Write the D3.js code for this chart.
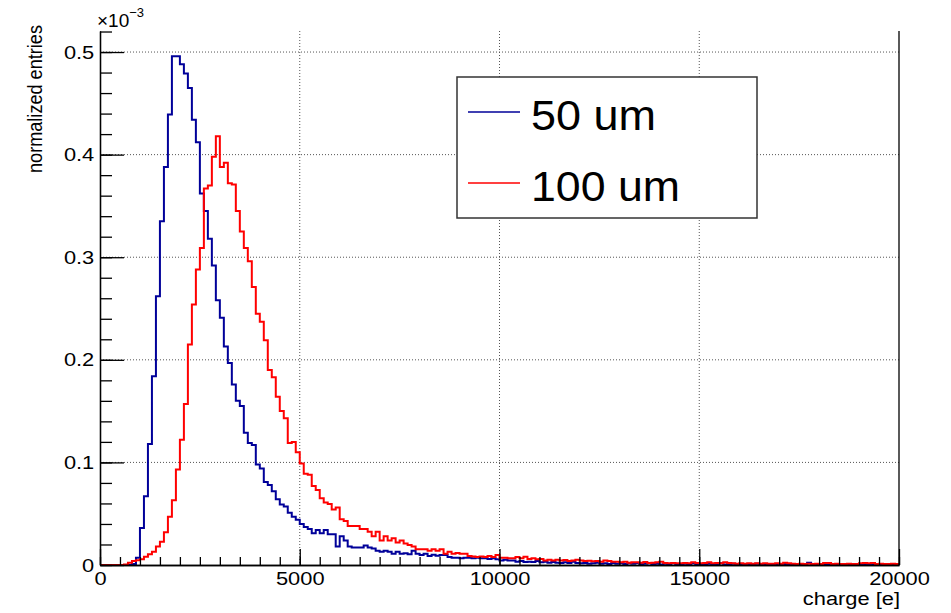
<!DOCTYPE html>
<html>
<head>
<meta charset="utf-8">
<script src="https://cdn.jsdelivr.net/npm/d3@7"></script>
<style>
body { margin: 0; background: #fff; }
#graph { width: 951px; height: 613px; }
svg text { font-family: "Liberation Sans", Arial, Helvetica, sans-serif; fill: #000; }
</style>
</head>
<body>
<div id="graph"></div>
<script>
// histogram binning (charge in e)
const xMin = 0, xMax = 20000, binWidth = 100;
const yTop = 0.5205; // in units of 1e-3

// tick values
const xMajorTicks = [0, 5000, 10000, 15000, 20000];
const yMajorTicks = [0, 0.1, 0.2, 0.3, 0.4, 0.5];

// normalized entries per bin, x 1e-3
const values50um = [
  0, 0, 0, 0, 0, 0, 0, 0, 0.001, 0.007,
  0.036, 0.067, 0.118, 0.184, 0.262, 0.335, 0.388, 0.439, 0.496, 0.496,
  0.488, 0.479, 0.465, 0.434, 0.412, 0.362, 0.345, 0.318, 0.292, 0.258,
  0.241, 0.213, 0.197, 0.176, 0.160, 0.155, 0.129, 0.119, 0.117, 0.098,
  0.094, 0.081, 0.078, 0.072, 0.064, 0.059, 0.057, 0.051, 0.047, 0.044,
  0.040, 0.037, 0.035, 0.031, 0.034, 0.031, 0.034, 0.030, 0.030, 0.018,
  0.028, 0.024, 0.018, 0.017, 0.017, 0.017, 0.019, 0.017, 0.016, 0.014,
  0.013, 0.014, 0.013, 0.011, 0.013, 0.011, 0.0115, 0.0105, 0.014, 0.011,
  0.0097, 0.011, 0.0088, 0.010, 0.009, 0.0097, 0.0097, 0.0078, 0.0071, 0.0071,
  0.0065, 0.0071, 0.0071, 0.0065, 0.0071, 0.0065, 0.0065, 0.0058, 0.0065, 0.0055,
  0.0045, 0.0052, 0.0045, 0.0045, 0.0032, 0.0039, 0.0029, 0.0032, 0.0029, 0.0039,
  0.0026, 0.0032, 0.0023, 0.0029, 0.0023, 0.0019, 0.0026, 0.0019, 0.0032, 0.0019,
  0.0016, 0.0019, 0.0013, 0.0016, 0.0023, 0.0013, 0.0016, 0.0010, 0.0019, 0.0013,
  0.0016, 0.0010, 0.0016, 0.0013, 0.0019, 0.0010, 0.0013, 0.0016, 0.0010, 0.0013,
  0.0006, 0.0013, 0.0010, 0.0016, 0.0006, 0.0010, 0.0013, 0.0006, 0.0016, 0.0010,
  0.0006, 0.0010, 0.0013, 0.0006, 0.0010, 0.0016, 0.0006, 0.0010, 0.0013, 0.0006,
  0.0010, 0.0006, 0.0010, 0.0006, 0.0013, 0.0006, 0.0010, 0.0006, 0.0006, 0.0010,
  0.0006, 0.0010, 0.0006, 0.0006, 0.0010, 0.0006, 0.0010, 0.0023, 0.0006, 0.0010,
  0.0006, 0.0006, 0.0010, 0.0006, 0.0006, 0.0010, 0.0006, 0.0010, 0.0006, 0.0006,
  0.0003, 0.0006, 0.0010, 0.0006, 0.0003, 0.0006, 0.0006, 0.0003, 0.0006, 0.0003
];

const values100um = [
  0, 0, 0, 0, 0, 0, 0.0005, 0.0023, 0.0039, 0.0047,
  0.0055, 0.0081, 0.0104, 0.013, 0.018, 0.0227, 0.032, 0.047, 0.063, 0.093,
  0.122, 0.157, 0.215, 0.254, 0.288, 0.309, 0.367, 0.370, 0.398, 0.418,
  0.388, 0.392, 0.372, 0.371, 0.345, 0.325, 0.309, 0.296, 0.271, 0.245,
  0.237, 0.219, 0.190, 0.183, 0.164, 0.150, 0.143, 0.119, 0.120, 0.110,
  0.099, 0.089, 0.088, 0.077, 0.073, 0.065, 0.061, 0.0595, 0.054, 0.056,
  0.0445, 0.043, 0.038, 0.038, 0.038, 0.035, 0.035, 0.0325, 0.028, 0.0325,
  0.024, 0.028, 0.024, 0.026, 0.022, 0.024, 0.021, 0.0195, 0.018, 0.0153,
  0.0153, 0.0153, 0.014, 0.0153, 0.014, 0.0153, 0.011, 0.013, 0.011, 0.0117,
  0.011, 0.011, 0.0088, 0.0084, 0.0078, 0.0084, 0.0078, 0.0088, 0.0078, 0.0097,
  0.0071, 0.0071, 0.0065, 0.0065, 0.0078, 0.0065, 0.0081, 0.0058, 0.0065, 0.0055,
  0.0058, 0.0045, 0.0052, 0.0045, 0.0052, 0.0045, 0.0049, 0.0039, 0.0045, 0.0052,
  0.0045, 0.0039, 0.0042, 0.0036, 0.0039, 0.0032, 0.0045, 0.0039, 0.0032, 0.0032,
  0.0026, 0.0032, 0.0023, 0.0026, 0.0026, 0.0023, 0.0029, 0.0019, 0.0023, 0.0026,
  0.0032, 0.0019, 0.0016, 0.0019, 0.0016, 0.0016, 0.0019, 0.0016, 0.0026, 0.0019,
  0.0016, 0.0019, 0.0026, 0.0016, 0.0019, 0.0016, 0.0026, 0.0019, 0.0016, 0.0013,
  0.0016, 0.0013, 0.0016, 0.0013, 0.0016, 0.0013, 0.0016, 0.0013, 0.0013, 0.0016,
  0.0013, 0.0023, 0.0016, 0.0013, 0.0010, 0.0013, 0.0010, 0.0013, 0.0010, 0.0013,
  0.0010, 0.0019, 0.0019, 0.0010, 0.0013, 0.0010, 0.0010, 0.0013, 0.0010, 0.0010,
  0.0016, 0.0019, 0.0016, 0.0019, 0.0010, 0.0013, 0.0010, 0.0010, 0.0013, 0.0010
];

const seriesNames = ["50 um", "100 um"];
const seriesColors = ["#000099", "#ff0000"];

const width = 951, height = 613;
const frame = {left: 100, right: 899, top: 31, bottom: 565};
const stretch = "scale(1.15,1)"; // labels in the picture are a bit wide

const svg = d3.select("#graph").append("svg")
  .attr("width", width)
  .attr("height", height);

const x = d3.scaleLinear().domain([xMin, xMax]).range([frame.left, frame.right]);
const y = d3.scaleLinear().domain([0, yTop]).range([frame.bottom, frame.top]);

// dotted grid
const grid = svg.append("g").attr("stroke", "#555").attr("stroke-dasharray", "1,2").attr("stroke-width", 1);
grid.selectAll(".gx").data(xMajorTicks.slice(1, -1)).join("line")
  .attr("x1", d => x(d)).attr("x2", d => x(d))
  .attr("y1", frame.top).attr("y2", frame.bottom);
grid.selectAll(".gy").data(yMajorTicks.slice(1)).join("line")
  .attr("x1", frame.left).attr("x2", frame.right)
  .attr("y1", d => y(d)).attr("y2", d => y(d));

// histograms as step outlines
const line = d3.line()
  .x(d => x(d[0]))
  .y(d => y(d[1]))
  .curve(d3.curveStepAfter);

function histPoints(vals) {
  let pts = vals.map((v, i) => [xMin + i * binWidth, v]);
  pts.push([xMax, vals[vals.length - 1]]);
  return pts;
}

[values50um, values100um].forEach((vals, i) => {
  svg.append("path")
    .attr("d", line(histPoints(vals)))
    .attr("fill", "none")
    .attr("stroke", seriesColors[i])
    .attr("stroke-width", 2)
    .attr("stroke-linejoin", "miter");
});

// axes, ROOT style ticks pointing inside
const xMinor = d3.range(xMin, xMax + 1, 500);
const yMinor = d3.range(0, 0.5201, 0.02);

const gxMinor = svg.append("g").attr("transform", `translate(0,${frame.bottom})`)
  .call(d3.axisBottom(x).tickValues(xMinor).tickSize(-8).tickSizeOuter(0).tickFormat(""));
const gx = svg.append("g").attr("transform", `translate(0,${frame.bottom})`)
  .call(d3.axisBottom(x).tickValues(xMajorTicks).tickSize(-16).tickSizeOuter(0).tickPadding(7).tickFormat(d3.format("d")));

const gyMinor = svg.append("g").attr("transform", `translate(${frame.left},0)`)
  .call(d3.axisLeft(y).tickValues(yMinor).tickSize(-12).tickSizeOuter(0).tickFormat(""));
const gy = svg.append("g").attr("transform", `translate(${frame.left},0)`)
  .call(d3.axisLeft(y).tickValues(yMajorTicks).tickSize(-24).tickSizeOuter(0).tickPadding(6)
    .tickFormat(d => d === 0 ? "0" : d.toFixed(1)));

[gxMinor, gx, gyMinor, gy].forEach(g => {
  g.select(".domain").attr("stroke", "#000").attr("stroke-width", 1.3);
  g.selectAll(".tick line").attr("stroke", "#000").attr("stroke-width", 1.3);
  g.selectAll("text").attr("font-size", 19).attr("font-family", null);
});
gx.selectAll(".tick text").attr("transform", stretch);
gy.selectAll(".tick text").attr("x", -5).attr("transform", stretch);

// right frame edge
svg.append("line")
  .attr("x1", frame.right).attr("x2", frame.right)
  .attr("y1", frame.top).attr("y2", frame.bottom)
  .attr("stroke", "#000").attr("stroke-width", 1.3);

// exponent label
const expo = svg.append("text").attr("x", 97).attr("y", 27).attr("font-size", 19);
expo.append("tspan").text("\u00d710");
expo.append("tspan").attr("dy", -10).attr("font-size", 13).text("\u22123");

// axis titles
svg.append("text")
  .attr("transform", `translate(900,605) ${stretch}`)
  .attr("text-anchor", "end")
  .attr("font-size", 19)
  .text("charge [e]");

svg.append("text")
  .attr("transform", "translate(42,25) rotate(-90)")
  .attr("text-anchor", "end")
  .attr("font-size", 20)
  .attr("textLength", 148)
  .attr("lengthAdjust", "spacingAndGlyphs")
  .text("normalized entries");

// legend
const legend = svg.append("g");
legend.append("rect")
  .attr("x", 457).attr("y", 77).attr("width", 300).attr("height", 141)
  .attr("fill", "#fff").attr("stroke", "#333").attr("stroke-width", 1.5);
const legendRows = [112, 183];
seriesNames.forEach((name, i) => {
  legend.append("line")
    .attr("x1", 468).attr("x2", 520)
    .attr("y1", legendRows[i]).attr("y2", legendRows[i])
    .attr("stroke", seriesColors[i]).attr("stroke-width", 1.5);
  legend.append("text")
    .attr("x", 531).attr("y", legendRows[i] + 18)
    .attr("font-size", 42)
    .attr("textLength", i === 0 ? 125 : 149)
    .attr("lengthAdjust", "spacingAndGlyphs")
    .text(name);
});
</script>
</body>
</html>
